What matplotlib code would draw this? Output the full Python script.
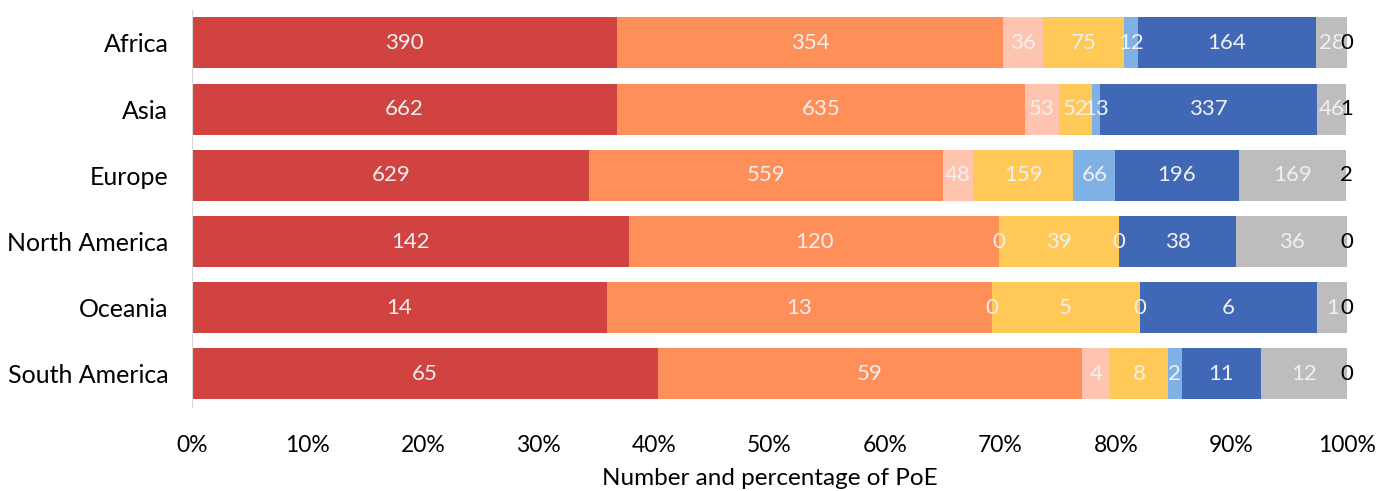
import numpy as np
import matplotlib.pyplot as plt
from matplotlib.ticker import PercentFormatter

plt.rcParams['font.family'] = ['Lato', 'DejaVu Sans']

regions = ['Africa', 'Asia', 'Europe', 'North America', 'Oceania', 'South America']
# counts per category (8 stacked series)
cat1 = [390, 662, 629, 142, 14, 65]
cat2 = [354, 635, 559, 120, 13, 59]
cat3 = [36, 53, 48, 0, 0, 4]
cat4 = [75, 52, 159, 39, 5, 8]
cat5 = [12, 13, 66, 0, 0, 2]
cat6 = [164, 337, 196, 38, 6, 11]
cat7 = [28, 46, 169, 36, 1, 12]
cat8 = [0, 1, 2, 0, 0, 0]

series = [cat1, cat2, cat3, cat4, cat5, cat6, cat7, cat8]
colors = ['#D04341', '#FF8F59', '#FFC4AF', '#FFC857', '#7FB1E4', '#4168B7', '#BDBDBD', 'none']
label_colors = ['#F0F0F0'] * 7 + ['black']

data = np.array(series, dtype=float)
totals = data.sum(axis=0)
pct = data / totals * 100

fig = plt.figure(figsize=(13.78, 4.91), dpi=100)
ax = fig.add_axes([0.1393, 0.171, 0.8382, 0.809])

y = np.arange(len(regions))
left = np.zeros(len(regions))
for i in range(len(series)):
    ax.barh(y, pct[i], left=left, height=0.77, color=colors[i], edgecolor='none')
    for j in range(len(regions)):
        xc = left[j] + pct[i][j] / 2
        ax.text(xc, y[j], str(series[i][j]), ha='center', va='center',
                fontsize=16, color=label_colors[i])
    left += pct[i]

ax.set_xlim(0, 100)
ax.set_ylim(len(regions) - 0.5, -0.5)
ax.set_yticks(y)
ax.set_yticklabels(regions, fontsize=18)
ax.set_xticks(np.arange(0, 101, 10))
ax.xaxis.set_major_formatter(PercentFormatter(decimals=0))
ax.tick_params(axis='x', labelsize=16.5, length=0, pad=20)
ax.tick_params(axis='y', length=0, pad=17)
ax.set_xlabel('Number and percentage of PoE', fontsize=17.5, labelpad=9)

for s in ['top', 'right', 'bottom']:
    ax.spines[s].set_visible(False)
ax.spines['left'].set_color('#D9D9D9')

fig.savefig('out.png', dpi=100)
